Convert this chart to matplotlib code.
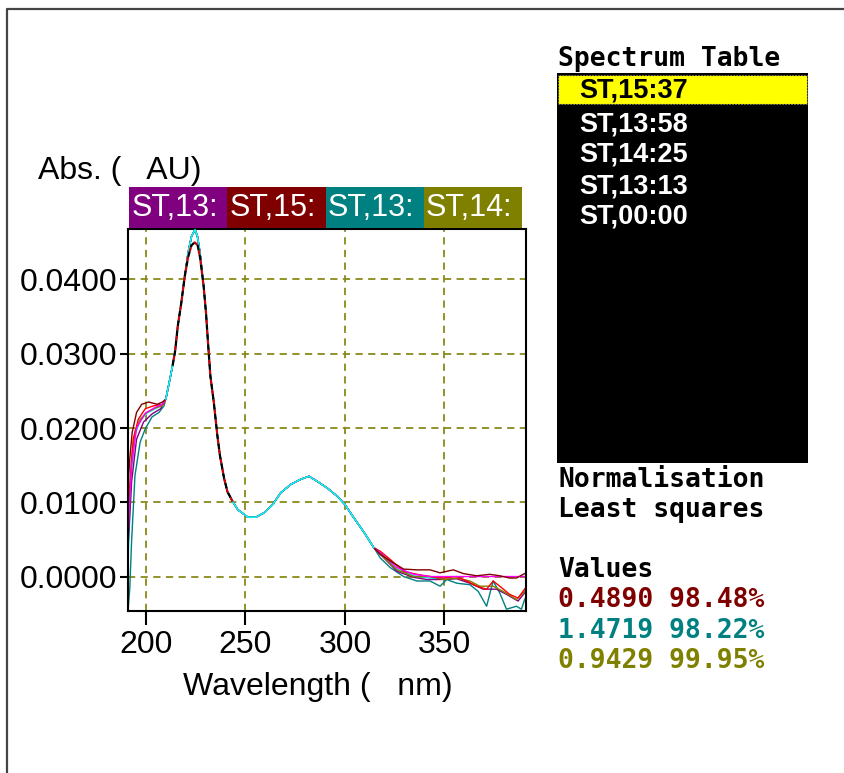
import matplotlib.pyplot as plt
from matplotlib.patches import Rectangle

# Spectra: the middle part is shared by all curves (they overlap there)
wl_mid = [210.0, 211.7, 213.4, 214.7, 216.0, 217.8, 219.5, 221.2, 222.9, 224.7, 225.9,
          227.2, 229.0, 230.2, 231.2, 232.4, 234.1, 235.9, 237.2, 239.3, 241.0, 243.6,
          246.2, 251.2, 255.3, 259.5, 263.7, 267.8, 272.8, 277.8, 282.0, 286.2, 291.2,
          296.2, 300.0, 304.5, 309.5, 314.5]
abs_mid = [0.0239, 0.0261, 0.0284, 0.0304, 0.0337, 0.0369, 0.0404, 0.0436, 0.0458, 0.0467, 0.0458,
           0.0436, 0.0391, 0.0355, 0.0315, 0.0270, 0.0235, 0.0190, 0.0163, 0.0132, 0.0114, 0.0101,
           0.0090, 0.0080, 0.0080, 0.0086, 0.0097, 0.0113, 0.0124, 0.0131, 0.0135, 0.0128, 0.0119,
           0.0108, 0.0097, 0.0079, 0.0060, 0.0039]

# start of each spectrum (< 210 nm)
cyan_head_wl = [191.0, 192.8, 194.5, 197.1, 200.5, 204.8, 208.3]
cyan_head_abs = [0.0020, 0.0140, 0.0190, 0.0210, 0.0220, 0.0226, 0.0231]
maroon_head_wl = [190.5, 191.0, 191.9, 193.1, 195.3, 197.9, 201.4, 205.7, 208.3]
maroon_head_abs = [0.0060, 0.0123, 0.0159, 0.0194, 0.0221, 0.0232, 0.0235, 0.0232, 0.0235]
red_head_wl = [190.7, 191.9, 193.6, 196.2, 199.7, 204.0, 208.3]
red_head_abs = [0.0047, 0.0123, 0.0185, 0.0212, 0.0226, 0.0230, 0.0232]
olive_head_wl = [191.0, 192.8, 194.5, 197.1, 200.5, 204.8, 208.3]
olive_head_abs = [0.0069, 0.0159, 0.0194, 0.0212, 0.0221, 0.0227, 0.0230]
purple_head_wl = [191.0, 192.8, 195.3, 198.8, 203.1, 207.4]
purple_head_abs = [0.0038, 0.0127, 0.0185, 0.0208, 0.0219, 0.0226]
teal_head_wl = [191.0, 191.9, 192.8, 194.5, 197.1, 199.7, 203.1, 206.6, 209.1]
teal_head_abs = [-0.0047, -0.0016, 0.0047, 0.0136, 0.0181, 0.0199, 0.0215, 0.0221, 0.0230]
magenta_head_wl = [191.0, 192.8, 195.3, 199.7, 204.8, 208.3]
magenta_head_abs = [0.0055, 0.0150, 0.0200, 0.0220, 0.0228, 0.0232]

# end of each spectrum (> 314 nm)
cyan_tail_wl = [317.8, 326.2, 334.5, 342.8, 350.0]
cyan_tail_abs = [0.0031, 0.0010, 0.0001, -0.0002, -0.0003]
maroon_tail_wl = [317.8, 322.8, 329.5, 336.2, 342.8, 347.8, 354.5, 359.5, 366.2, 372.8,
                  377.8, 382.8, 386.2, 390.3, 391.5]
maroon_tail_abs = [0.0030, 0.0021, 0.0010, 0.0009, 0.0009, 0.0005, 0.0009, 0.0004, 0.0001, 0.0003,
                   0.0001, -0.0002, -0.0002, 0.0004, 0.0004]
red_tail_wl = [317.8, 322.8, 329.5, 336.2, 342.8, 349.5, 356.2, 361.2, 366.2, 371.2,
               374.5, 377.8, 382.8, 387.0, 390.3, 391.5]
red_tail_abs = [0.0034, 0.0023, 0.0007, 0.0003, 0.0000, -0.0002, 0.0000, -0.0006, -0.0013, -0.0017,
                -0.0006, -0.0013, -0.0024, -0.0029, -0.0017, -0.0012]
olive_tail_wl = [317.8, 326.2, 334.5, 342.8, 349.5, 356.2, 362.8, 367.8, 374.5, 379.5, 386.2, 390.3, 391.5]
olive_tail_abs = [0.0030, 0.0009, 0.0000, 0.0000, -0.0004, -0.0002, -0.0006, -0.0013, -0.0013,
                  -0.0020, -0.0031, -0.0020, -0.0016]
purple_tail_wl = [317.8, 326.2, 334.5, 341.2, 349.5, 356.2, 362.8, 369.5, 376.2, 381.2, 387.0, 390.3, 391.5]
purple_tail_abs = [0.0030, 0.0007, -0.0001, -0.0004, -0.0004, -0.0003, -0.0009, -0.0017, -0.0017,
                   -0.0024, -0.0033, -0.0022, -0.0018]
teal_tail_wl = [317.8, 322.8, 329.5, 336.2, 342.8, 347.8, 351.2, 356.2, 362.8, 367.0, 371.2,
                374.5, 377.8, 381.2, 386.2, 388.7, 390.3, 391.5]
teal_tail_abs = [0.0025, 0.0012, 0.0000, -0.0006, -0.0006, -0.0013, -0.0004, -0.0009, -0.0011,
                 -0.0020, -0.0040, -0.0006, -0.0022, -0.0044, -0.0040, -0.0044, -0.0031, -0.0025]
magenta_tail_wl = [317.8, 326.2, 334.5, 342.8, 351.2, 362.8, 376.2, 391.5]
magenta_tail_abs = [0.0032, 0.0012, 0.0003, 0.0000, 0.0000, 0.0000, 0.0000, 0.0000]

# selected spectrum drawn dashed over the main peak
dash_wl = [213.4, 214.7, 216.0, 217.8, 219.5, 221.2, 222.9, 224.5, 226.0, 227.2, 229.0,
           230.2, 231.2, 232.4, 234.1, 235.9, 237.2, 239.3, 241.0, 243.6]
dash_abs = [0.0284, 0.0304, 0.0337, 0.0369, 0.0404, 0.0430, 0.0446, 0.0450, 0.0446, 0.0430, 0.0391,
            0.0355, 0.0315, 0.0270, 0.0235, 0.0190, 0.0163, 0.0132, 0.0114, 0.0101]

header_labels = ['ST,13:', 'ST,15:', 'ST,13:', 'ST,14:']
header_colors = ['#800080', '#800000', '#008080', '#808000']

table_entries = ['ST,15:37', 'ST,13:58', 'ST,14:25', 'ST,13:13', 'ST,00:00']
value_lines = ['0.4890 98.48%', '1.4719 98.22%', '0.9429 99.95%']
value_colors = ['#800000', '#008080', '#808000']

x_ticks = [200, 250, 300, 350]
y_ticks = [0.0, 0.01, 0.02, 0.03, 0.04]

sans = 'Liberation Sans'
mono = 'DejaVu Sans Mono'

fig = plt.figure(figsize=(8.44, 7.73), dpi=100)
W, H = 844, 773

ax = fig.add_axes([128 / W, 1 - 610.7 / H, (526 - 128) / W, (610.7 - 229) / H])

series = [
    ('#00ffff', cyan_head_wl, cyan_head_abs, cyan_tail_wl, cyan_tail_abs),
    ('#008080', teal_head_wl, teal_head_abs, teal_tail_wl, teal_tail_abs),
    ('#800080', purple_head_wl, purple_head_abs, purple_tail_wl, purple_tail_abs),
    ('#808000', olive_head_wl, olive_head_abs, olive_tail_wl, olive_tail_abs),
    ('#ff0000', red_head_wl, red_head_abs, red_tail_wl, red_tail_abs),
    ('#ff00ff', magenta_head_wl, magenta_head_abs, magenta_tail_wl, magenta_tail_abs),
    ('#800000', maroon_head_wl, maroon_head_abs, maroon_tail_wl, maroon_tail_abs),
]
for color, hw, ha, tw, ta in series:
    ax.plot(hw + wl_mid + tw, ha + abs_mid + ta, color=color, lw=1.0, zorder=2)

ax.plot(wl_mid, abs_mid, color='#00ffff', lw=1.2, zorder=3)
ax.plot(dash_wl, dash_abs, color='black', lw=1.6, ls=(0, (2.5, 2)), gapcolor='#d00000', zorder=4)

ax.set_xlim(191, 391)
ax.set_ylim(-0.0046, 0.0468)
ax.set_xticks(x_ticks)
ax.set_yticks(y_ticks)
ax.set_yticklabels(['%.4f' % v for v in y_ticks])
ax.grid(True, color='#8a8a1a', lw=1.3, ls=(0, (4, 3)))
ax.set_axisbelow(True)
for s in ax.spines.values():
    s.set_linewidth(1.5)
ax.tick_params(axis='y', length=6, width=1.5, pad=2, labelsize=23)
ax.tick_params(axis='x', length=10, width=1.5, pad=4, labelsize=23)
for lab in ax.get_xticklabels() + ax.get_yticklabels():
    lab.set_family(sans)

# overlay in pixel coordinates for everything around the plot
ov = fig.add_axes([0, 0, 1, 1])
ov.set_xlim(0, W)
ov.set_ylim(H, 0)
ov.axis('off')

# outer frame
ov.plot([7, 7, W], [H, 9, 9], color='#444444', lw=1.6)

ov.text(38, 171, 'Abs. (   AU)', family=sans, fontsize=23, va='center', ha='left')
ov.text(318, 687, 'Wavelength (   nm)', family=sans, fontsize=23, va='center', ha='center')

cell_w = (521.7 - 129.3) / len(header_labels)
for i, (lab, c) in enumerate(zip(header_labels, header_colors)):
    x0 = 129.3 + i * cell_w
    ov.add_patch(Rectangle((x0, 187.3), cell_w, 40.4, color=c, lw=0))
    ov.text(x0 + 2, 208, lab, family=sans, fontsize=22, color='white', va='center', ha='left')

# spectrum table
ov.text(558, 59, 'Spectrum Table', family=mono, weight='bold', fontsize=19, va='center', ha='left')
ov.add_patch(Rectangle((557, 73), 251, 390, color='black', lw=0))
ov.add_patch(Rectangle((557.5, 75), 249, 29, facecolor='#ffff00', edgecolor='#000080', lw=0.8, ls=':'))
row_y = [90, 124, 155, 186, 217]
for i, (entry, y) in enumerate(zip(table_entries, row_y)):
    ov.text(579, y, entry, family=sans, weight='bold', fontsize=19.5,
            color='black' if i == 0 else 'white', va='center', ha='left')

ov.text(558, 480, 'Normalisation', family=mono, weight='bold', fontsize=19, va='center', ha='left')
ov.text(558, 510, 'Least squares', family=mono, weight='bold', fontsize=19, va='center', ha='left')
ov.text(558, 570, 'Values', family=mono, weight='bold', fontsize=19, va='center', ha='left')
for line, c, y in zip(value_lines, value_colors, [600, 631, 661]):
    ov.text(558, y, line, family=mono, weight='bold', fontsize=19, color=c, va='center', ha='left')

fig.savefig('out.png', dpi=100)
